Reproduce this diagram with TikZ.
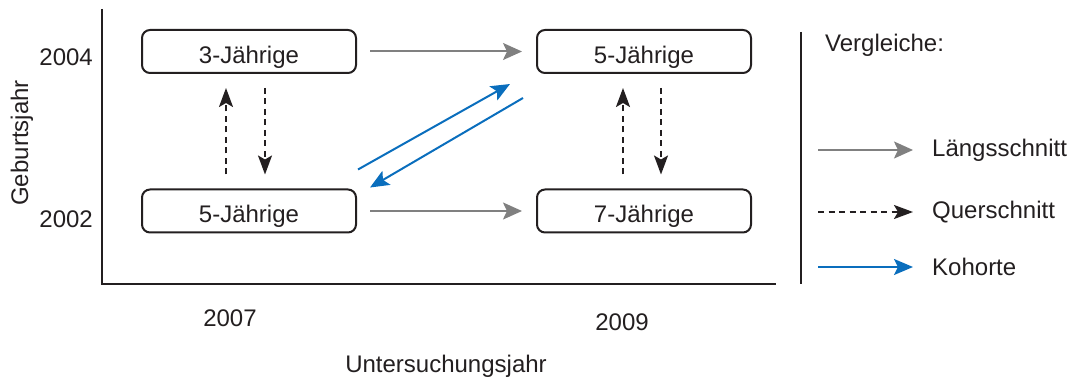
\documentclass[tikz,border=0pt]{standalone}
\usepackage{fontspec}
\setmainfont{Liberation Sans}
\usetikzlibrary{arrows.meta,calc}
\definecolor{ink}{HTML}{231F20}
\definecolor{lgray}{HTML}{808080}
\definecolor{kblue}{HTML}{0A6EBD}
\tikzset{
  agebox/.style={draw=ink, line width=2pt, rounded corners=8pt, minimum width=214pt,
    minimum height=43pt, inner sep=0pt, text=ink, text height=23.5pt, text depth=0pt},
  lab/.style={text=ink, inner sep=0pt},
  axis/.style={draw=ink, line width=2pt},
  laengs/.style={draw=lgray, line width=2pt, -{Stealth[length=19pt,width=17pt,inset=4pt]}},
  quer/.style={draw=ink, line width=2pt, dash pattern=on 6pt off 4.5pt,
    -{Stealth[length=19pt,width=14pt,inset=4pt]}},
  kohorte/.style={draw=kblue, line width=2pt, -{Stealth[length=19pt,width=16pt,inset=4pt]}},
}
\begin{document}
\begin{tikzpicture}[x=1pt,y=-1pt,font=\fontsize{24}{28}\selectfont]
\useasboundingbox (0,0) rectangle (1076,379);

% axes
\coordinate (ytop) at (102,9);
\coordinate (origin) at (102,284);
\coordinate (xend) at (776,284);
\draw[axis] (ytop) -- (origin) -- (xend);

% axis labels
\node[lab, anchor=east] (y2004) at (93,57) {2004};
\node[lab, anchor=east] (y2002) at (93,219) {2002};
\node[lab, rotate=90] (ylab) at (22,143) {Geburtsjahr};
\node[lab] (x2007) at (230,318) {2007};
\node[lab] (x2009) at (622,322) {2009};
\node[lab] (xlab) at (446,366) {Untersuchungsjahr};

% age groups
\node[agebox] (b1) at (249,51.5) {3-Jährige};
\node[agebox] (b2) at (249,211) {5-Jährige};
\node[agebox] (b3) at (644,51.5) {5-Jährige};
\node[agebox] (b4) at (644,211) {7-Jährige};

% longitudinal comparisons
\draw[laengs, shorten <=13pt, shorten >=14pt] (b1) -- (b3);
\draw[laengs, shorten <=13pt, shorten >=14pt] (b2) -- (b4);

% cross-sectional comparisons
\draw[quer, shorten <=14pt, shorten >=14pt] ([xshift=-23pt]b2.north) -- ([xshift=-23pt]b1.south);
\draw[quer, shorten <=14pt, shorten >=14pt] ([xshift=16pt]b1.south) -- ([xshift=16pt]b2.north);
\draw[quer, shorten <=14pt, shorten >=14pt] ([xshift=-21pt]b4.north) -- ([xshift=-21pt]b3.south);
\draw[quer, shorten <=14pt, shorten >=14pt] ([xshift=17pt]b3.south) -- ([xshift=17pt]b4.north);

% cohort comparisons
\draw[kohorte] ($(b2.north east)+(1,-19)$) -- ($(b3.south west)+(-26,10)$);
\draw[kohorte] ($(b3.south west)+(-13,24)$) -- ($(b2.north east)+(13,-1)$);

% legend
\coordinate (sepTop) at (801,32);
\coordinate (sepBot) at (801,284);
\draw[axis] (sepTop) -- (sepBot);
\node[lab, anchor=west] (vgl) at (825,45) {Vergleiche:};

\coordinate (l1a) at (818,150); \coordinate (l1b) at (913,150);
\coordinate (l2a) at (818,212); \coordinate (l2b) at (913,212);
\coordinate (l3a) at (818,267); \coordinate (l3b) at (913,267);
\draw[laengs] (l1a) -- (l1b);
\draw[quer] (l2a) -- (l2b);
\draw[kohorte] (l3a) -- (l3b);
\node[lab, anchor=west] (t1) at (932,150) {Längsschnitt};
\node[lab, anchor=west] (t2) at (932,212) {Querschnitt};
\node[lab, anchor=west] (t3) at (932,267) {Kohorte};
\end{tikzpicture}
\end{document}
